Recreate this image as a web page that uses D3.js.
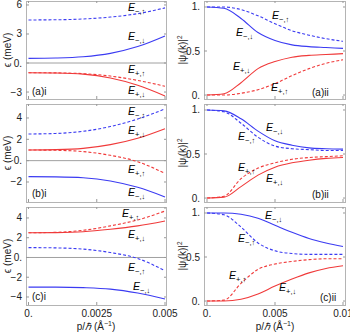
<!DOCTYPE html>
<html>
<head>
<meta charset="utf-8">
<script src="https://cdn.jsdelivr.net/npm/d3@7"></script>
<style>
  body { margin: 0; background: #fff; }
  text { font-family: "Liberation Sans", Arial, sans-serif; }
</style>
</head>
<body>
<div id="chart"></div>
<script>
// momentum grids
var pLeft = [0, 0.001, 0.002, 0.003, 0.004, 0.005];
var pRight = [0, 0.00125, 0.0025, 0.00375, 0.005, 0.00625, 0.0075, 0.00875, 0.01];

// energies (meV), panels (a)i (b)i (c)i
var aMinusUp = [4.45, 4.47, 4.55, 4.75, 5.1, 5.7];
var aMinusDown = [0.48, 0.52, 0.65, 1.0, 1.7, 2.8];
var aPlusUp = [-1.0, -1.02, -1.1, -1.35, -1.8, -2.4];
var aPlusDown = [-1.0, -1.03, -1.15, -1.55, -2.3, -3.4];

var bMinusUp = [2.5, 2.55, 2.75, 3.2, 3.9, 4.85];
var bPlusDown = [1.0, 1.03, 1.15, 1.5, 2.1, 3.0];
var bPlusUp = [1.0, 0.97, 0.85, 0.5, -0.1, -1.2];
var bMinusDown = [-1.5, -1.52, -1.6, -1.9, -2.5, -3.4];

var cPlusUp = [2.5, 2.55, 2.75, 3.2, 3.8, 4.7];
var cPlusDown = [2.5, 2.52, 2.6, 2.85, 3.2, 3.7];
var cMinusUp = [1.0, 0.97, 0.85, 0.5, -0.1, -1.35];
var cMinusDown = [-3.0, -3.0, -3.05, -3.2, -3.6, -4.2];

// |psi|^2, panels (a)ii (b)ii (c)ii
var aPsiMinusUp = [1.0, 1.0, 0.97, 0.9, 0.81, 0.73, 0.68, 0.64, 0.61];
var aPsiMinusDown = [1.0, 0.985, 0.87, 0.71, 0.62, 0.57, 0.55, 0.54, 0.53];
var aPsiPlusDown = [0.0, 0.015, 0.14, 0.3, 0.38, 0.43, 0.45, 0.46, 0.47];
var aPsiPlusUp = [0.0, 0.0, 0.02, 0.06, 0.13, 0.22, 0.3, 0.36, 0.4];

var bPsiMinusDown = [1.0, 0.99, 0.9, 0.76, 0.65, 0.6, 0.57, 0.56, 0.555];
var bPsiMinusUp = [1.0, 0.98, 0.85, 0.69, 0.59, 0.56, 0.55, 0.54, 0.54];
var bPsiPlusUp = [0.0, 0.02, 0.22, 0.34, 0.4, 0.44, 0.46, 0.47, 0.48];
var bPsiPlusDown = [0.0, 0.01, 0.13, 0.26, 0.35, 0.4, 0.43, 0.45, 0.46];

var cPsiMinusDown = [1.0, 1.0, 0.985, 0.94, 0.86, 0.78, 0.71, 0.66, 0.62];
var cPsiMinusUp = [1.0, 0.98, 0.84, 0.66, 0.57, 0.54, 0.53, 0.53, 0.53];
var cPsiPlusUp = [0.0, 0.01, 0.2, 0.36, 0.42, 0.45, 0.47, 0.48, 0.48];
var cPsiPlusDown = [0.0, 0.0, 0.02, 0.08, 0.17, 0.25, 0.32, 0.37, 0.4];

// tick labels
var leftTicksA = [6, 3, 0, -3];
var leftTicksB = [4, 2, 0, -2];
var leftTicksC = [4, 2, 0, -2, -4];
var rightTicks = [1, 0.5, 0];
var xTicksLeft = [0, 0.0025, 0.005];
var xTicksRight = [0, 0.005, 0.01];

var blue = "#3b3bf2", red = "#f03a3a";

var svg = d3.select("#chart").append("svg")
  .attr("width", 350).attr("height", 334);

var rows = [1, 104, 207], rowH = 98;

var xLeft = d3.scaleLinear().domain([0, 0.005]).range([28.5, 165]);
var xRight = d3.scaleLinear().domain([0, 0.01]).range([207, 343]);

function fmt(v) {
  if (v === 0) return "0.";
  if (v === 1) return "1.";
  return (v < 0 ? "\u2212" : "") + Math.abs(v);
}

function subLabel(g, x, y, sign, arrow) {
  var t = g.append("text").attr("x", x).attr("y", y)
    .attr("font-size", 10.5);
  t.append("tspan").attr("font-style", "italic").text("E");
  t.append("tspan").attr("font-size", 7.5).attr("dy", 3)
    .text(sign + "," + arrow);
}

function panel(opts) {
  var g = svg.append("g");
  var x = opts.x;
  var y = d3.scaleLinear().domain(opts.ydom).range([opts.top + rowH, opts.top]);
  var x0 = opts.frame[0], x1 = opts.frame[1];

  // zero line
  if (opts.zero) {
    g.append("line").attr("x1", x0).attr("x2", x1)
      .attr("y1", y(0)).attr("y2", y(0))
      .attr("stroke", "#a0a0a0").attr("stroke-width", 1);
  }

  var line = d3.line()
    .x(function (d) { return x(d[0]); })
    .y(function (d) { return y(d[1]); })
    .curve(d3.curveMonotoneX);

  opts.series.forEach(function (s) {
    g.append("path")
      .datum(opts.p.map(function (p, i) { return [p, s.v[i]]; }))
      .attr("d", line)
      .attr("fill", "none")
      .attr("stroke", s.color)
      .attr("stroke-width", 1.1)
      .attr("stroke-dasharray", s.dash ? "3,2" : null);
  });

  // frame
  g.append("rect").attr("x", x0 + 0.5).attr("y", opts.top + 0.5)
    .attr("width", x1 - x0).attr("height", rowH)
    .attr("fill", "none").attr("stroke", "#b4b4b4").attr("stroke-width", 1);

  // y ticks
  opts.yticks.forEach(function (v) {
    g.append("line").attr("x1", x0).attr("x2", x0 + 3)
      .attr("y1", y(v)).attr("y2", y(v)).attr("stroke", "#999");
    g.append("line").attr("x1", x1 - 2).attr("x2", x1)
      .attr("y1", y(v)).attr("y2", y(v)).attr("stroke", "#999");
    g.append("text").attr("x", x0 - 4).attr("y", y(v) + 3.5)
      .attr("text-anchor", "end").attr("font-size", 10).attr("fill", "#222")
      .text(fmt(v));
  });

  // x ticks
  opts.xticks.forEach(function (v) {
    g.append("line").attr("x1", x(v)).attr("x2", x(v))
      .attr("y1", opts.top + rowH).attr("y2", opts.top + rowH - 3).attr("stroke", "#999");
    g.append("line").attr("x1", x(v)).attr("x2", x(v))
      .attr("y1", opts.top).attr("y2", opts.top + 2).attr("stroke", "#999");
    if (opts.showX) {
      g.append("text").attr("x", x(v)).attr("y", opts.top + rowH + 12)
        .attr("text-anchor", "middle").attr("font-size", 10).attr("fill", "#222")
        .text(v === 0 ? "0." : String(v));
    }
  });

  opts.labels.forEach(function (l) { subLabel(g, l[0], l[1], l[2], l[3]); });

  g.append("text").attr("x", opts.tag[0]).attr("y", opts.tag[1])
    .attr("font-size", 10).attr("fill", "#111").text(opts.tag[2]);

  // axis title
  var cy = opts.top + rowH / 2;
  var tt = g.append("text")
    .attr("transform", "translate(" + opts.titleX + "," + cy + ") rotate(-90)")
    .attr("text-anchor", "middle").attr("font-size", 10).attr("fill", "#222");
  if (opts.left) {
    tt.text("\u03f5 (meV)");
  } else {
    tt.append("tspan").text("|\u03c8");
    tt.append("tspan").attr("font-size", 6.5).attr("dy", 2).text("i");
    tt.append("tspan").attr("dy", -2).text("(k)|");
    tt.append("tspan").attr("font-size", 6.5).attr("dy", -4).text("2");
  }
}

var up = "\u2191", dn = "\u2193";

panel({ left: true, x: xLeft, frame: [26, 166], top: rows[0], ydom: [-3.72, 6.41], zero: true,
  p: pLeft, yticks: leftTicksA, xticks: xTicksLeft, showX: false, titleX: 11,
  series: [
    { v: aMinusUp, color: blue, dash: true },
    { v: aMinusDown, color: blue, dash: false },
    { v: aPlusUp, color: red, dash: true },
    { v: aPlusDown, color: red, dash: false }],
  labels: [[128, 11, "\u2212", up], [128, 40, "\u2212", dn], [128, 73, "+", up], [128, 94, "+", dn]],
  tag: [32, 95, "(a)i"] });

panel({ left: true, x: xLeft, frame: [26, 166], top: rows[1], ydom: [-3.875, 5.31], zero: true,
  p: pLeft, yticks: leftTicksB, xticks: xTicksLeft, showX: false, titleX: 11,
  series: [
    { v: bMinusUp, color: blue, dash: true },
    { v: bPlusDown, color: red, dash: false },
    { v: bPlusUp, color: red, dash: true },
    { v: bMinusDown, color: blue, dash: false }],
  labels: [[128, 115, "\u2212", up], [128, 134, "+", dn], [128, 173, "+", up], [128, 196, "\u2212", dn]],
  tag: [32, 197, "(b)i"] });

panel({ left: true, x: xLeft, frame: [26, 166], top: rows[2], ydom: [-4.81, 5.11], zero: true,
  p: pLeft, yticks: leftTicksC, xticks: xTicksLeft, showX: true, titleX: 11,
  series: [
    { v: cPlusUp, color: red, dash: true },
    { v: cPlusDown, color: red, dash: false },
    { v: cMinusUp, color: blue, dash: true },
    { v: cMinusDown, color: blue, dash: false }],
  labels: [[122, 217, "+", up], [128, 238, "+", dn], [128, 271, "\u2212", up], [133, 290, "\u2212", dn]],
  tag: [32, 300, "(c)i"] });

panel({ left: false, x: xRight, frame: [204, 345], top: rows[0], ydom: [-0.045, 1.068], zero: false,
  p: pRight, yticks: rightTicks, xticks: xTicksRight, showX: false, titleX: 186,
  series: [
    { v: aPsiMinusUp, color: blue, dash: true },
    { v: aPsiMinusDown, color: blue, dash: false },
    { v: aPsiPlusDown, color: red, dash: false },
    { v: aPsiPlusUp, color: red, dash: true }],
  labels: [[272, 19, "\u2212", up], [236, 36, "\u2212", dn], [233, 70, "+", dn], [271, 91, "+", up]],
  tag: [312, 96, "(a)ii"] });

panel({ left: false, x: xRight, frame: [204, 345], top: rows[1], ydom: [-0.045, 1.068], zero: false,
  p: pRight, yticks: rightTicks, xticks: xTicksRight, showX: false, titleX: 186,
  series: [
    { v: bPsiMinusDown, color: blue, dash: false },
    { v: bPsiMinusUp, color: blue, dash: true },
    { v: bPsiPlusUp, color: red, dash: true },
    { v: bPsiPlusDown, color: red, dash: false }],
  labels: [[266, 131, "\u2212", dn], [238, 140, "\u2212", up], [238, 171, "+", up], [266, 182, "+", dn]],
  tag: [312, 198, "(b)ii"] });

panel({ left: false, x: xRight, frame: [204, 345], top: rows[2], ydom: [-0.045, 1.068], zero: false,
  p: pRight, yticks: rightTicks, xticks: xTicksRight, showX: true, titleX: 186,
  series: [
    { v: cPsiMinusDown, color: blue, dash: false },
    { v: cPsiMinusUp, color: blue, dash: true },
    { v: cPsiPlusUp, color: red, dash: true },
    { v: cPsiPlusDown, color: red, dash: false }],
  labels: [[265, 219, "\u2212", dn], [238, 242, "\u2212", up], [229, 279, "+", up], [279, 291, "+", dn]],
  tag: [320, 301, "(c)ii"] });

// x axis titles
[96, 275].forEach(function (cx) {
  var t = svg.append("text").attr("x", cx).attr("y", 330)
    .attr("text-anchor", "middle").attr("font-size", 10).attr("fill", "#222");
  t.append("tspan").text("p/");
  t.append("tspan").attr("font-style", "italic").text("\u210f");
  t.append("tspan").text(" (\u00c5");
  t.append("tspan").attr("font-size", 7).attr("dy", -4).text("\u22121");
  t.append("tspan").attr("dy", 4).text(")");
});
</script>
</body>
</html>
